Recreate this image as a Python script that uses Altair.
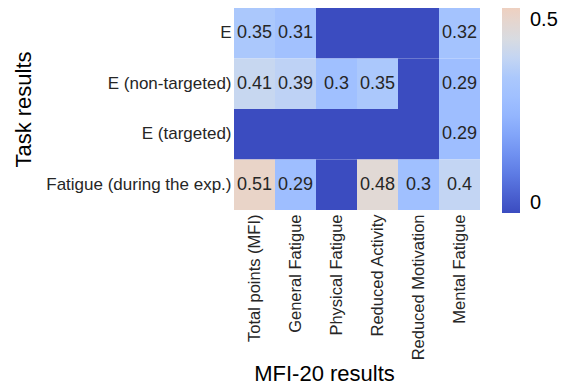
import altair as alt
import pandas as pd

rows = ["E", "E (non-targeted)", "E (targeted)", "Fatigue (during the exp.)"]
cols = ["Total points (MFI)", "General Fatigue", "Physical Fatigue",
        "Reduced Activity", "Reduced Motivation", "Mental Fatigue"]
vals_E = [0.35, 0.31, None, None, None, 0.32]
vals_E_non = [0.41, 0.39, 0.3, 0.35, None, 0.29]
vals_E_t = [None, None, None, None, None, 0.29]
vals_fatigue = [0.51, 0.29, None, 0.48, 0.3, 0.4]

color_stops = [0, 0.116, 0.231, 0.289, 0.347, 0.405, 0.463, 0.53]
color_range = ["#3b4cc0", "#6282ea", "#8db0fe", "#9ebeff", "#aac7fd",
               "#c5d6f2", "#dddcdc", "#eed0c0"]

recs = []
for r, vals in zip(rows, [vals_E, vals_E_non, vals_E_t, vals_fatigue]):
    for c, v in zip(cols, vals):
        recs.append({"row": r, "col": c, "value": v})
df = pd.DataFrame(recs)

FONT = "Liberation Sans"

base = alt.Chart(df).transform_calculate(
    fillv="datum.value === null ? 0 : datum.value",
    label="datum.value === null ? '' : format(datum.value, '')",
)

heat = base.mark_rect(strokeWidth=0).encode(
    x=alt.X("col:N", sort=cols, title="MFI-20 results",
            axis=alt.Axis(labelAngle=-90, labelFontSize=16.5, labelFont=FONT,
                          labelColor="#262626", ticks=False, domain=False,
                          labelPadding=4, labelLimit=0, titleFontSize=22,
                          titleFont=FONT, titleFontWeight="normal",
                          titleColor="#000000", titlePadding=4, titleX=90)),
    y=alt.Y("row:N", sort=rows, title="Task results",
            axis=alt.Axis(labelFontSize=17, labelFont=FONT, labelColor="#262626",
                          ticks=False, domain=False, labelPadding=3,
                          labelLimit=0, titleFontSize=22, titleFont=FONT,
                          titleFontWeight="normal", titleColor="#000000",
                          titlePadding=10)),
    color=alt.Color("fillv:Q",
                    scale=alt.Scale(domain=color_stops, range=color_range,
                                    interpolate="rgb"),
                    legend=alt.Legend(title=None, gradientLength=205,
                                      gradientThickness=18, offset=22,
                                      values=[0, 0.5], labelFontSize=20,
                                      labelFont=FONT, labelColor="#000000",
                                      labelOffset=10, gradientStrokeWidth=0,
                                      labelExpr="datum.value == 0 ? '0' : format(datum.value, '.1f')")),
)

text = base.mark_text(fontSize=18, font=FONT, color="#262626").encode(
    x=alt.X("col:N", sort=cols),
    y=alt.Y("row:N", sort=rows),
    text="label:N",
)

chart = (heat + text).properties(
    width=246, height=202,
    padding={"left": 4, "top": 0, "right": 0, "bottom": 0},
).configure_view(strokeWidth=0).configure_scale(bandPaddingInner=0)

chart.save("out.html", embed_options={"renderer": "svg", "actions": False})
